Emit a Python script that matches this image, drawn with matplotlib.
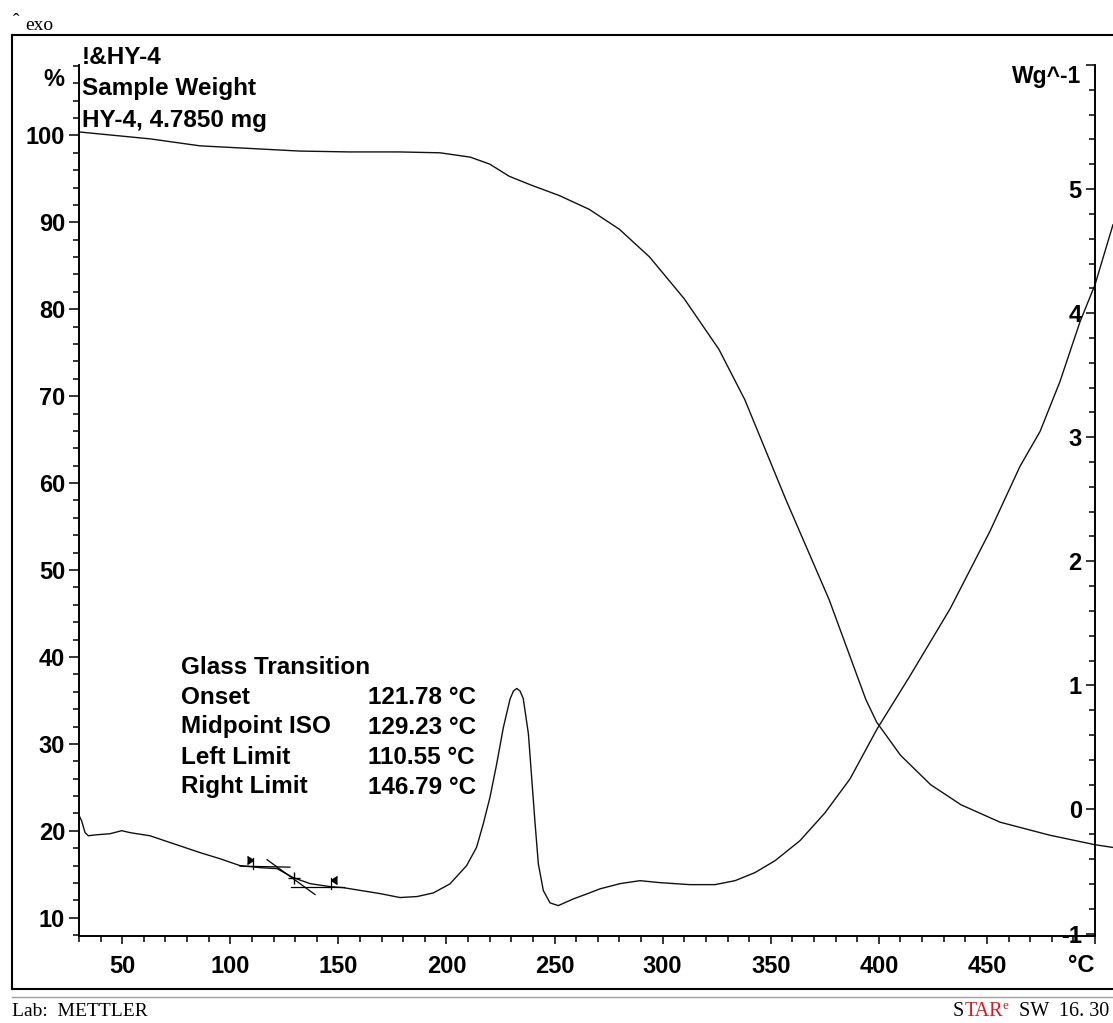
import matplotlib
matplotlib.use("Agg")
import matplotlib.pyplot as plt
from matplotlib.lines import Line2D
from matplotlib.ticker import MultipleLocator, FuncFormatter

plt.rcParams["font.family"] = ["Liberation Sans", "DejaVu Sans"]
plt.rcParams["font.weight"] = "bold"

# --- data ---
# TGA (sample weight, %), left axis
tga_t = [30, 63, 86, 109, 132, 155, 178, 197, 211, 220, 229, 239, 252, 266,
         280, 294, 310, 326, 338, 357, 377, 394, 399, 410, 424, 438, 456, 479,
         500, 508]
tga_w = [100.4, 99.6, 98.8, 98.5, 98.2, 98.1, 98.1, 98.0, 97.5, 96.7, 95.3,
         94.3, 93.1, 91.5, 89.2, 86.0, 81.2, 75.4, 69.6, 58.1, 46.6, 35.1, 32.5,
         28.7, 25.3, 23.0, 21.0, 19.5, 18.4, 18.1]

# DSC heat flow (W/g), right axis
dsc_t = [30.1, 31.2, 32.8, 34.3, 38.2, 44.3, 49.8, 53.6, 62.8, 86.0, 95.2,
         104.5, 113.7, 121.6, 129.0, 136.9, 146.1, 152.1, 169.2, 178.5, 186.4,
         193.9, 201.6, 209.3, 213.9, 217.0, 220.1, 223.2, 226.3, 229.4, 231.0,
         232.5, 234.0, 235.5, 237.9, 239.4, 241.0, 242.5, 244.8, 247.9, 251.7,
         258.7, 264.9, 271.0, 280.3, 289.5, 298.8, 312.6, 324.2, 333.5, 342.7,
         352.0, 363.5, 375.1, 386.7, 399.2, 414.4, 432.9, 451.4, 465.3, 474.6,
         483.8, 493.1, 500.0, 508.3]
dsc_q = [-0.051, -0.091, -0.187, -0.212, -0.204, -0.196, -0.171, -0.187,
         -0.212, -0.348, -0.397, -0.453, -0.469, -0.477, -0.549, -0.598,
         -0.622, -0.630, -0.678, -0.710, -0.702, -0.673, -0.600, -0.453,
         -0.306, -0.117, 0.097, 0.365, 0.660, 0.890, 0.955, 0.975, 0.955,
         0.895, 0.609, 0.257, -0.117, -0.439, -0.654, -0.753, -0.775, -0.721,
         -0.681, -0.640, -0.598, -0.574, -0.590, -0.606, -0.606, -0.574,
         -0.509, -0.413, -0.252, -0.027, 0.247, 0.649, 1.076, 1.615, 2.242,
         2.765, 3.047, 3.449, 3.932, 4.229, 4.712]

# glass transition evaluation
gt_left, gt_mid, gt_right, gt_onset = 110.55, 129.23, 146.79, 121.78
gt_mid_q = -0.549
base_left_t, base_left_q = [104.5, 127.6], [-0.457, -0.465]
tangent_t, tangent_q = [117.0, 139.2], [-0.405, -0.686]
base_right_t, base_right_q = [128.1, 152.6], [-0.622, -0.622]
flag_left_q = [-0.389, -0.477]
flag_right_q = [-0.549, -0.638]

gt_names = ["Onset", "Midpoint ISO", "Left Limit", "Right Limit"]
gt_values = [gt_onset, gt_mid, gt_left, gt_right]

W, H = 1113, 1023
fig = plt.figure(figsize=(W / 100, H / 100), dpi=100)


def fx(px):
    return px / W


def fy(py):
    return 1 - py / H


ax = fig.add_axes([fx(79), fy(936), fx(1095) - fx(79), fy(65) - fy(936)])
ax2 = ax.twinx()

ax.plot(tga_t, tga_w, color="#111111", lw=1.0, clip_on=False)
ax2.plot(dsc_t, dsc_q, color="#111111", lw=1.0, clip_on=False)

# evaluation marks
mk = dict(color="black", lw=0.9)
ax2.plot(base_left_t, base_left_q, **mk)
ax2.plot(tangent_t, tangent_q, **mk)
ax2.plot(base_right_t, base_right_q, **mk)
ax2.plot([gt_mid], [gt_mid_q], marker="+", ms=9, mew=1.0, color="black")
ax2.plot([gt_left, gt_left], flag_left_q, **mk)
ax2.plot([gt_left], [flag_left_q[0] - 0.022], marker=5, ms=6, color="black")
ax2.plot([gt_right, gt_right], flag_right_q, **mk)
ax2.plot([gt_right], [flag_right_q[0] - 0.022], marker=4, ms=6, color="black")

# axes limits / ticks
ax.set_xlim(30, 500)
ax.set_ylim(7.9, 108.1)
ax2.set_ylim(-1.02, 6.0)

ax.spines["top"].set_visible(False)
ax2.spines["top"].set_visible(False)
for a in (ax, ax2):
    for s in a.spines.values():
        s.set_linewidth(1.2)

ax.xaxis.set_major_locator(MultipleLocator(50))
ax.xaxis.set_minor_locator(MultipleLocator(10))
ax.xaxis.set_major_formatter(FuncFormatter(lambda v, p: "" if v >= 500 else f"{v:.0f}"))
ax.yaxis.set_major_locator(MultipleLocator(10))
ax.yaxis.set_minor_locator(MultipleLocator(2))
ax2.yaxis.set_major_locator(MultipleLocator(1))
ax2.yaxis.set_minor_locator(MultipleLocator(0.2))
ax2.yaxis.set_major_formatter(FuncFormatter(lambda v, p: "" if v > 5.5 else f"{v:.0f}"))

ax.tick_params(axis="x", which="major", direction="out", length=6, width=1.1,
               pad=7.5, labelsize=17)
ax.tick_params(axis="x", which="minor", direction="out", length=4, width=1.1)
ax.tick_params(axis="y", which="major", direction="out", length=7, width=1.1,
               pad=3, labelsize=17)
ax.tick_params(axis="y", which="minor", direction="out", length=4.3, width=1.1)
ax2.tick_params(axis="y", which="major", direction="in", length=6.5, width=1.1,
                pad=-9.5, labelsize=17)
ax2.tick_params(axis="y", which="minor", direction="in", length=4.3, width=1.1)
for lab in ax2.get_yticklabels():
    lab.set_horizontalalignment("right")

# unit labels
fig.text(fx(64), fy(79), "%", ha="right", va="center", fontsize=17)
fig.text(fx(1081), fy(77), "Wg^-1", ha="right", va="center", fontsize=16.5)
fig.text(fx(1094), fy(965), "°C", ha="right", va="center", fontsize=17)

# sample info
for i, line in enumerate(["!&HY-4", "Sample Weight", "HY-4, 4.7850 mg"]):
    fig.text(fx(82), fy(58 + 31 * i), line, ha="left", va="center", fontsize=17.5)

# glass transition table
fig.text(fx(181), fy(668), "Glass Transition", ha="left", va="center", fontsize=17.5)
for i, (name, val) in enumerate(zip(gt_names, gt_values)):
    yy = fy(697 + 30 * i)
    fig.text(fx(181), yy, name, ha="left", va="center", fontsize=17.5)
    fig.text(fx(368), yy, f"{val:.2f} °C", ha="left", va="center", fontsize=17.5)

# outer frame
frame = dict(transform=fig.transFigure, color="black", lw=1.5)
fig.add_artist(Line2D([fx(12), fx(12)], [fy(35), fy(989)], **frame))
fig.add_artist(Line2D([fx(12), 1], [fy(35), fy(35)], **frame))
fig.add_artist(Line2D([fx(12), 1], [fy(989), fy(989)], **frame))
fig.add_artist(Line2D([fx(12), 1], [fy(997), fy(997)], transform=fig.transFigure,
                      color="#a0a0a0", lw=1.0))

serif = dict(family=["Liberation Serif", "DejaVu Serif"], weight="normal")
fig.text(fx(25), fy(30), "exo", ha="left", va="baseline", fontsize=14, **serif)
fig.text(fx(13), fy(26), "ˆ", ha="left", va="baseline", fontsize=14, **serif)
fig.text(fx(12), fy(1012), "Lab:  METTLER", ha="left", va="center", fontsize=14, **serif)

# STARe SW 16.30 footer, pieced together right to left
r = fig.canvas.get_renderer()
t_sw = fig.text(fx(1109), fy(1012), "  SW  16. 30", ha="right", va="center",
                fontsize=14.5, **serif)
x_left = t_sw.get_window_extent(r).x0
t_e = fig.text(x_left / W, fy(1006), "e", ha="right", va="center", fontsize=9.5,
               color="#e8141b", **serif)
x_left = t_e.get_window_extent(r).x0
t_tar = fig.text(x_left / W, fy(1012), "TAR", ha="right", va="center",
                 fontsize=14.5, color="#e8141b", **serif)
x_left = t_tar.get_window_extent(r).x0
fig.text(x_left / W, fy(1012), "S", ha="right", va="center", fontsize=14.5, **serif)

fig.savefig("out.png", dpi=100)
